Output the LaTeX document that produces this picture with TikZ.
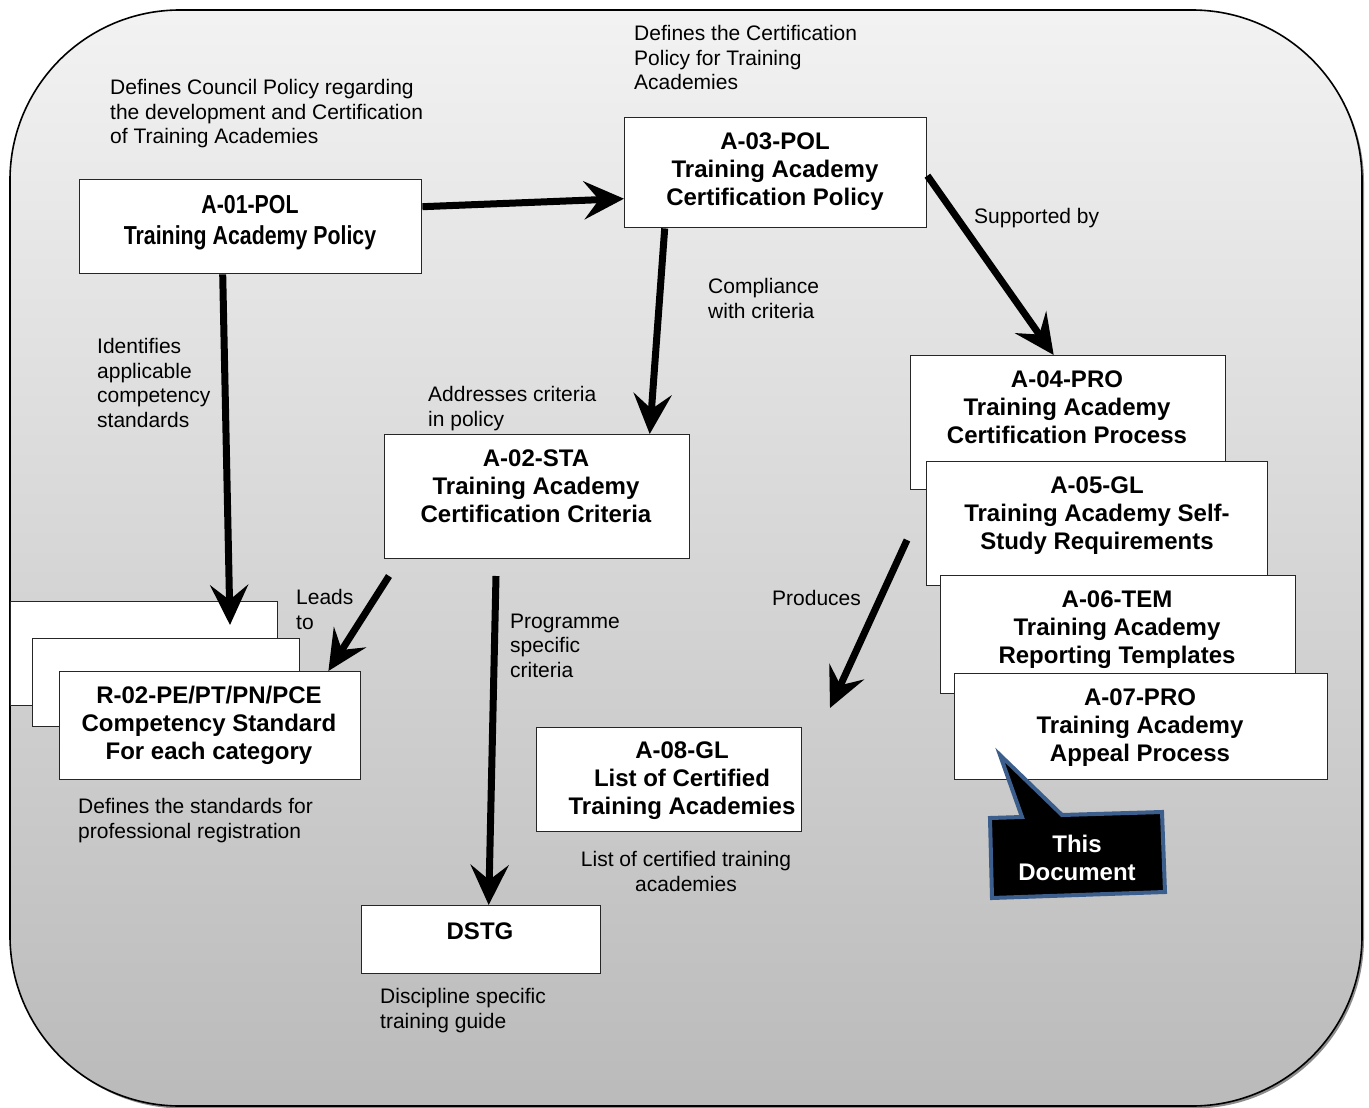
\documentclass[tikz,border=0pt]{standalone}
\usepackage{fontspec}
\setmainfont{Liberation Sans}
\newfontfamily\narrowfont[FakeStretch=0.82]{Liberation Sans}
\usetikzlibrary{arrows.meta}
\definecolor{calloutblue}{RGB}{60,94,140}
\begin{document}
\begin{tikzpicture}[x=1pt,y=-1pt,
  docbox/.style={draw=black!85, line width=1.4pt, fill=white, rectangle, inner sep=0pt, anchor=north west},
  btxt/.style={font=\fontsize{24}{28}\selectfont\bfseries, align=center, anchor=north, inner sep=0pt},
  lbl/.style={font=\fontsize{21}{24.5}\selectfont, align=left, anchor=north west, inner sep=0pt},
  arr/.style={line width=7pt, -{Stealth[length=40pt,width=38pt,inset=15pt]}},
]
\useasboundingbox (0,0) rectangle (1369,1108);
% background
\fill[black!45, rounded corners=170pt] (12.5,12.5) rectangle (1364,1108.5);
\path[draw=black, line width=1.6pt, rounded corners=170pt, top color=black!5, bottom color=black!27] (10,10) rectangle (1362,1106);

% labels
\node[lbl] (tcouncil) at (110,79.5) {Defines Council Policy regarding\\the development and Certification\\of Training Academies};
\node[lbl] (tcertpol) at (634,25.5) {Defines the Certification\\Policy for Training\\Academies};
\node[lbl] (tsupp) at (974,208.5) {Supported by};
\node[lbl] (tcompl) at (708,278.5) {Compliance\\with criteria};
\node[lbl] (tident) at (97,338.5) {Identifies\\applicable\\competency\\standards};
\node[lbl] (taddr) at (428,386.5) {Addresses criteria\\in policy};
\node[lbl] (tleads) at (296,589.5) {Leads\\to};
\node[lbl] (tprog) at (510,613.5) {Programme\\specific\\criteria};
\node[lbl] (tprod) at (772,590.5) {Produces};
\node[lbl] (tdefstd) at (78,798.5) {Defines the standards for\\professional registration};
\node[lbl, align=center, anchor=north] (tlist) at (686,851.5) {List of certified training\\academies};
\node[lbl] (tdisc) at (380,988.5) {Discipline specific\\training guide};

% boxes
\node[docbox, minimum width=342pt, minimum height=94pt] (a01) at (79,179) {};
\node[btxt, font=\fontsize{26}{31}\narrowfont\bfseries] (a01t) at (250,195.5) {A-01-POL\\Training Academy Policy};
\node[docbox, minimum width=302pt, minimum height=110pt] (a03) at (624,117) {};
\node[btxt] (a03t) at (775,132.4) {A-03-POL\\Training Academy\\Certification Policy};
\node[docbox, minimum width=305pt, minimum height=124pt] (a02) at (384,434) {};
\node[btxt] (a02t) at (536,449.4) {A-02-STA\\Training Academy\\Certification Criteria};

\node[docbox, minimum width=267pt, minimum height=104pt] (r02b) at (10,601) {};
\node[docbox, minimum width=267pt, minimum height=88pt] (r02m) at (32,638) {};
\node[docbox, minimum width=301pt, minimum height=108pt] (r02) at (59,671) {};
\node[btxt] (r02t) at (209,686.4) {R-02-PE/PT/PN/PCE\\Competency Standard\\For each category};

\node[docbox, minimum width=315pt, minimum height=134pt] (a04) at (910,355) {};
\node[btxt] (a04t) at (1067,370.4) {A-04-PRO\\Training Academy\\Certification Process};
\node[docbox, minimum width=341pt, minimum height=124pt] (a05) at (926,461) {};
\node[btxt] (a05t) at (1097,476.4) {A-05-GL\\Training Academy Self-\\Study Requirements};
\node[docbox, minimum width=355pt, minimum height=118pt] (a06) at (940,575) {};
\node[btxt] (a06t) at (1117,590.4) {A-06-TEM\\Training Academy\\Reporting Templates};
\node[docbox, minimum width=373pt, minimum height=106pt] (a07) at (954,673) {};
\node[btxt] (a07t) at (1140,688.4) {A-07-PRO\\Training Academy\\Appeal Process};

\node[docbox, minimum width=265pt, minimum height=104pt] (a08) at (536,727) {};
\node[btxt] (a08t) at (682,741.4) {A-08-GL\\List of Certified\\Training Academies};
\node[docbox, minimum width=239pt, minimum height=68pt] (dstg) at (361,905) {};
\node[btxt] (dstgt) at (480,922.4) {DSTG};

% callout
\draw[fill=black, draw=calloutblue, line width=4pt, line join=miter]
  (990,818) -- (1022,817) -- (1000,755) -- (1062,815) -- (1162,812) -- (1165,892) -- (992,898) -- cycle;
\node[btxt, text=white] (thisdoc) at (1077,835.4) {This\\Document};

% free ends
\coordinate (r02tip) at (230,625);
\coordinate (a02l) at (389,576);
\coordinate (a02d) at (496,576);
\coordinate (prodstart) at (907,540);
\coordinate (prodtip) at (830,708);

% arrows
\draw[arr] ([yshift=20pt]a01.east) -- ([yshift=-26pt]a03.west);
\draw[arr] ([xshift=-28pt]a01.south) -- (r02tip);
\draw[arr] ([xshift=-111pt]a03.south) -- ([xshift=112.5pt]a02.north);
\draw[arr] ([yshift=-3pt]a03.east) -- ([xshift=-14.5pt]a04.north);
\draw[arr] (a02l) -- ([xshift=-33pt]r02.north east);
\draw[arr] (a02d) -- ([xshift=7.5pt]dstg.north);
\draw[arr] (prodstart) -- (prodtip);
\end{tikzpicture}
\end{document}
